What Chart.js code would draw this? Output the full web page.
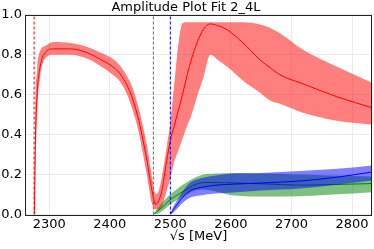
<!DOCTYPE html>
<html>
<head>
<meta charset="utf-8">
<script src="https://cdn.jsdelivr.net/npm/chart.js@4.4.1/dist/chart.umd.min.js"></script>
<style>
  html, body { margin: 0; padding: 0; background: #fff; }
  #wrap { width: 374px; height: 249px; }
</style>
</head>
<body>
<div id="wrap"><canvas id="ampChart"></canvas></div>
<script>
// axis ticks
const xTicks = [2300, 2400, 2500, 2600, 2700, 2800];
const yTicks = [0, 0.2, 0.4, 0.6, 0.8, 1.0];

// thresholds (dashed lines): red, green, blue
const thresholds = [2275, 2472, 2500];

// red amplitude with error band
const redX   = [2275.5, 2277, 2280, 2285, 2293, 2307, 2335, 2363, 2389, 2405, 2417, 2428, 2437, 2448, 2455, 2462, 2469, 2476, 2481, 2486, 2494, 2500, 2506, 2513, 2520, 2527, 2535, 2544, 2555, 2566, 2580, 2594, 2620, 2648, 2665, 2681, 2719, 2775, 2833];
const redMid = [0, 0.35, 0.60, 0.74, 0.81, 0.83, 0.83, 0.81, 0.77, 0.74, 0.705, 0.65, 0.585, 0.47, 0.37, 0.26, 0.13, 0.05, 0.07, 0.12, 0.27, 0.37, 0.44, 0.52, 0.60, 0.69, 0.78, 0.86, 0.93, 0.955, 0.945, 0.925, 0.86, 0.775, 0.735, 0.70, 0.655, 0.59, 0.535];
const redLo  = [0, 0.20, 0.50, 0.69, 0.78, 0.80, 0.80, 0.78, 0.735, 0.70, 0.665, 0.605, 0.53, 0.41, 0.30, 0.185, 0.06, 0.025, 0.025, 0.04, 0.12, 0.18, 0.26, 0.32, 0.38, 0.44, 0.50, 0.59, 0.69, 0.80, 0.77, 0.74, 0.67, 0.61, 0.57, 0.555, 0.51, 0.47, 0.45];
const redHi  = [0, 0.50, 0.72, 0.82, 0.845, 0.865, 0.86, 0.84, 0.805, 0.78, 0.745, 0.695, 0.64, 0.53, 0.44, 0.335, 0.20, 0.10, 0.12, 0.19, 0.34, 0.46, 0.64, 0.85, 0.958, 0.963, 0.963, 0.963, 0.963, 0.963, 0.963, 0.963, 0.963, 0.952, 0.935, 0.908, 0.825, 0.74, 0.66];

// green amplitude with error band
const greenX   = [2472, 2480, 2490, 2496, 2510, 2524, 2541, 2555, 2575, 2604, 2660, 2714, 2769, 2833];
const greenMid = [0, 0.02, 0.045, 0.065, 0.095, 0.12, 0.15, 0.16, 0.16, 0.158, 0.153, 0.147, 0.15, 0.155];
const greenLo  = [0, 0.005, 0.025, 0.04, 0.07, 0.095, 0.12, 0.125, 0.115, 0.095, 0.09, 0.092, 0.10, 0.112];
const greenHi  = [0, 0.035, 0.07, 0.09, 0.125, 0.155, 0.185, 0.20, 0.205, 0.208, 0.205, 0.20, 0.195, 0.19];

// blue amplitude with error band
const blueX   = [2500, 2505, 2510, 2516, 2525, 2533, 2549, 2575, 2604, 2650, 2714, 2770, 2833];
const blueMid = [0, 0.025, 0.045, 0.07, 0.10, 0.12, 0.135, 0.147, 0.152, 0.158, 0.168, 0.185, 0.213];
const blueLo  = [0, 0.01, 0.025, 0.045, 0.07, 0.085, 0.095, 0.105, 0.11, 0.12, 0.13, 0.148, 0.17];
const blueHi  = [0, 0.04, 0.065, 0.095, 0.135, 0.16, 0.18, 0.195, 0.205, 0.208, 0.218, 0.228, 0.246];

const FONT = 'DejaVu Sans';

function pts(xs, ys) {
    return xs.map((x, i) => ({ x: x, y: ys[i] }));
}

function band(xs, lo, hi, color) {
    return [
        { data: pts(xs, lo), borderWidth: 0, fill: false },
        { data: pts(xs, hi), borderWidth: 0, fill: '-1', backgroundColor: color }
    ];
}

function curve(xs, ys, color) {
    return { data: pts(xs, ys), borderColor: color, borderWidth: 1, fill: false };
}

function vline(x, color) {
    return {
        data: [{ x: x, y: 0 }, { x: x, y: 1 }],
        borderColor: color, borderWidth: 1, borderDash: [3, 2], fill: false
    };
}

const datasets = [
    ...band(redX, redLo, redHi, 'rgba(255, 0, 0, 0.5)'),
    curve(redX, redMid, '#ff0000'),
    ...band(greenX, greenLo, greenHi, 'rgba(0, 128, 0, 0.5)'),
    curve(greenX, greenMid, '#008000'),
    ...band(blueX, blueLo, blueHi, 'rgba(0, 0, 255, 0.5)'),
    curve(blueX, blueMid, '#0000ff'),
    vline(thresholds[0], '#ff0000'),
    vline(thresholds[1], '#1f961f'),
    vline(thresholds[2], '#0000ff')
];
// first dataset at the bottom, last on top
datasets.forEach((d, i) => { d.order = 50 - i; d.cubicInterpolationMode = 'monotone'; });
datasets.slice(-3).forEach(d => { d.cubicInterpolationMode = 'default'; d.tension = 0; });

// frame around the plot area
const frame = {
    id: 'frame',
    afterDraw(chart) {
        const a = chart.chartArea;
        const ctx = chart.ctx;
        ctx.save();
        ctx.strokeStyle = '#222';
        ctx.lineWidth = 1;
        ctx.strokeRect(Math.round(a.left) + 0.5, Math.round(a.top) + 0.5,
            Math.round(a.right - a.left) - 1, Math.round(a.bottom - a.top));
        ctx.restore();
    }
};

new Chart(document.getElementById('ampChart').getContext('2d'), {
    type: 'line',
    data: { datasets: datasets },
    options: {
        responsive: true,
        maintainAspectRatio: false,
        animation: false,
        layout: { padding: { left: 0, right: 2, top: 0, bottom: 0 } },
        elements: { point: { radius: 0 } },
        plugins: {
            legend: { display: false },
            tooltip: { enabled: false },
            title: {
                display: true,
                text: 'Amplitude Plot Fit 2_4L',
                color: '#000',
                font: { family: FONT, size: 13, weight: 'normal', lineHeight: 1.15 },
                padding: { top: 0, bottom: 0 }
            }
        },
        scales: {
            x: {
                type: 'linear',
                min: 2260,
                max: 2833,
                afterBuildTicks: s => { s.ticks = xTicks.map(v => ({ value: v })); },
                afterFit: s => { s.height = 34.5; },
                ticks: {
                    color: '#000', font: { family: FONT, size: 13 }, padding: 2, maxRotation: 0,
                    callback: v => String(v)
                },
                grid: { color: '#ebebeb', drawTicks: false },
                border: { display: false },
                title: {
                    display: true,
                    text: '√s [MeV]',
                    color: '#000',
                    font: { family: FONT, size: 13 },
                    padding: { top: 0, bottom: 5 }
                }
            },
            y: {
                type: 'linear',
                min: 0,
                max: 1,
                afterBuildTicks: s => { s.ticks = yTicks.map(v => ({ value: v })); },
                afterFit: s => { s.width = 25; },
                ticks: {
                    color: '#000', font: { family: FONT, size: 13 }, padding: 3,
                    callback: v => v.toFixed(1)
                },
                grid: { color: '#ebebeb', drawTicks: false },
                border: { display: false }
            }
        }
    },
    plugins: [frame]
});
</script>
</body>
</html>
